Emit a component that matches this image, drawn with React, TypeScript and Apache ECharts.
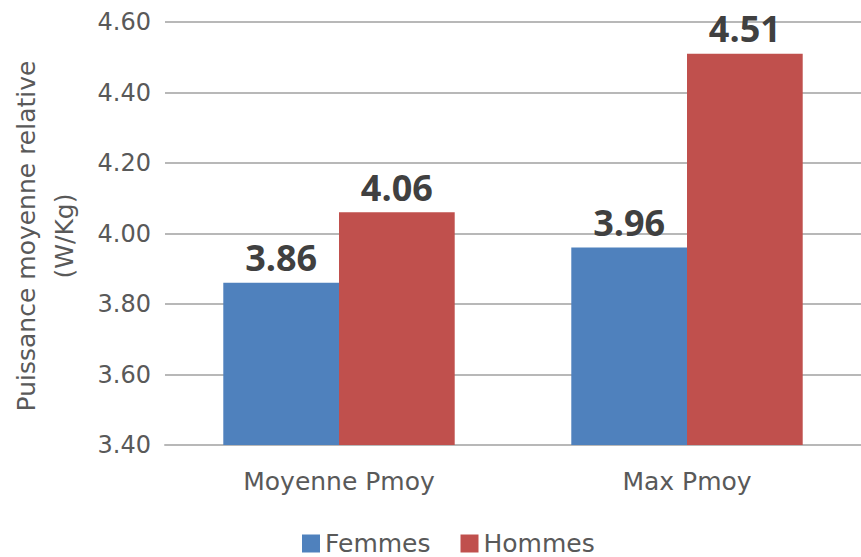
import React, { useEffect, useRef } from "react";
import * as echarts from "echarts";

const categories = ["Moyenne Pmoy", "Max Pmoy"];
const femmes = [3.86, 3.96];
const hommes = [4.06, 4.51];
const seriesNames = ["Femmes", "Hommes"];
const yMin = 3.4;
const yMax = 4.6;
const yInterval = 0.2;
const axisTitle = "Puissance moyenne relative\n(W/Kg)";

export default function App() {
  const ref = useRef<HTMLDivElement>(null);
  useEffect(() => {
    document.body.style.margin = "0";
    const chart = echarts.init(ref.current!, null, { renderer: "svg" });
    const labelStyle = {
      show: true,
      position: "top",
      distance: 7,
      fontFamily: "Open Sans",
      fontWeight: "bold",
      fontSize: 36,
      color: "#404040",
      formatter: (p: any) => Number(p.value).toFixed(2),
    };
    chart.setOption({
      animation: false,
      backgroundColor: "#ffffff",
      grid: { left: 165, width: 700, top: 22, bottom: 112, containLabel: false },
      legend: {
        data: seriesNames,
        left: 297,
        top: 526,
        itemWidth: 18,
        itemHeight: 18,
        itemGap: 30,
        icon: "rect",
        textStyle: { fontFamily: "DejaVu Sans", fontSize: 25, color: "#595959" },
      },
      xAxis: {
        type: "category",
        data: categories,
        axisTick: { show: false },
        axisLine: { lineStyle: { color: "#b8b8b8", width: 2 } },
        axisLabel: { fontFamily: "DejaVu Sans", fontSize: 25, color: "#595959", margin: 24 },
      },
      yAxis: {
        type: "value",
        min: yMin,
        max: yMax,
        interval: yInterval,
        axisLine: { show: false },
        axisTick: { show: false },
        splitLine: { lineStyle: { color: "#b8b8b8", width: 2 } },
        axisLabel: {
          fontFamily: "DejaVu Sans",
          fontSize: 24,
          color: "#595959",
          margin: 14,
          formatter: (v: number) => v.toFixed(2),
        },
      },
      graphic: [
        {
          type: "text",
          x: 45,
          y: 236,
          rotation: Math.PI / 2,
          style: {
            text: axisTitle,
            fontFamily: "DejaVu Sans",
            fontSize: 25,
            lineHeight: 38,
            fill: "#595959",
            align: "center",
            verticalAlign: "middle",
          },
        },
      ],
      series: [
        {
          name: seriesNames[0],
          type: "bar",
          data: femmes,
          itemStyle: { color: "#4F81BD" },
          barGap: "0%",
          barCategoryGap: "33.5%",
          label: labelStyle,
        },
        {
          name: seriesNames[1],
          type: "bar",
          data: hommes,
          itemStyle: { color: "#C0504D" },
          label: labelStyle,
        },
      ],
    });
    return () => chart.dispose();
  }, []);
  return <div ref={ref} style={{ width: 861, height: 557 }} />;
}
